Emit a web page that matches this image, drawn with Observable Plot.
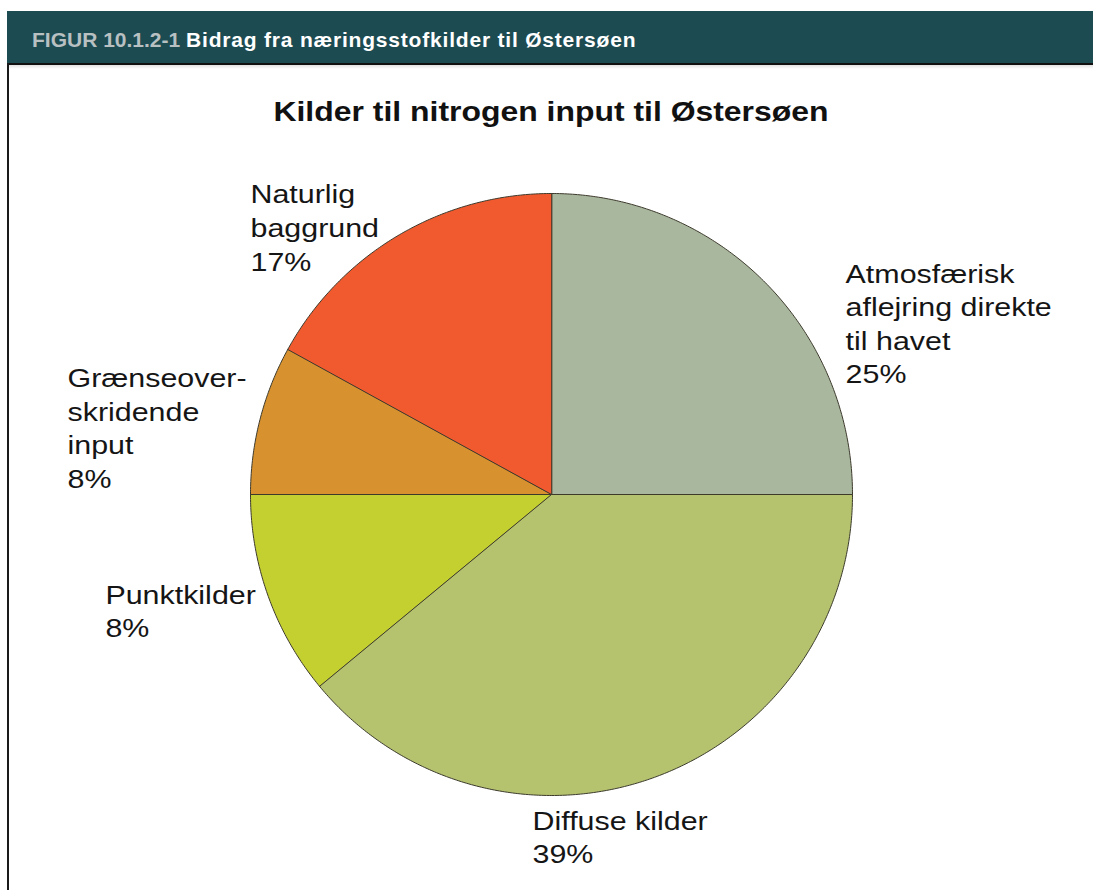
<!DOCTYPE html>
<html>
<head>
<meta charset="utf-8">
<script src="https://cdn.jsdelivr.net/npm/d3@7"></script>
<script src="https://cdn.jsdelivr.net/npm/@observablehq/plot@0.6"></script>
<style>
html, body { margin: 0; padding: 0; background: #fff; }
body { width: 1093px; height: 890px; position: relative; overflow: hidden; font-family: "Liberation Sans", Arial, Helvetica, sans-serif; }
#header { position: absolute; left: 7px; top: 11px; width: 1086px; height: 52px; background: #1d4b52; }
#header .txt { position: absolute; left: 25px; top: 18px; font-size: 21px; line-height: 21px; font-weight: bold; white-space: nowrap; }
#header .fig { color: #b8c0c2; }
#header .ttl { color: #ffffff; letter-spacing: 0.8px; }
#rule { position: absolute; left: 7px; top: 63px; width: 1086px; height: 2px; background: #111; }
#shadow { position: absolute; left: 9px; top: 65px; width: 1084px; height: 4px; background: linear-gradient(#e2e2e2, #ffffff); }
#leftborder { position: absolute; left: 7px; top: 63px; width: 2px; height: 827px; background: #1a1a1a; }
#title { position: absolute; left: 0; top: 96px; width: 1102px; text-align: center; font-size: 28.5px; line-height: 30px; font-weight: bold; color: #111; transform: scaleX(1.12); transform-origin: 551px 0; }
#chart { position: absolute; left: 0; top: 65px; }
</style>
</head>
<body>
<div id="header"><div class="txt"><span class="fig">FIGUR 10.1.2-1</span> <span class="ttl">Bidrag fra næringsstofkilder til Østersøen</span></div></div>
<div id="rule"></div>
<div id="shadow"></div>
<div id="title">Kilder til nitrogen input til Østersøen</div>
<div id="chart"></div>
<div id="leftborder"></div>
<script>
// ---- data ----
const categories = [
  "Atmosfærisk aflejring direkte til havet",
  "Diffuse kilder",
  "Punktkilder",
  "Grænseoverskridende input",
  "Naturlig baggrund"
];
// slice sizes as drawn (angles measured on the picture), clockwise from 12 o'clock
const shares = [25, 39, 11, 8, 17];
// percentage text as printed on the picture
const shareLabels = ["25%", "39%", "8%", "8%", "17%"];
// how each category name is broken into lines
const nameLines = [
  ["Atmosfærisk", "aflejring direkte", "til havet"],
  ["Diffuse kilder"],
  ["Punktkilder"],
  ["Grænseover-", "skridende", "input"],
  ["Naturlig", "baggrund"]
];
const palette = ["#a9b79f", "#b5c36f", "#c4d02f", "#d8912f", "#f15a2f"];

// ---- layout ----
const W = 1093, H = 825, R = 301, cx = 551, cy = 429;
// label anchors (top-left of text block) in units of pie radius
const labelAt = [[0.977, 0.783], [-0.063, -1.034], [-1.482, -0.283], [-1.608, 0.435], [-1.0, 1.046]];
const labelStretch = 1.17;

// ---- build slice outlines from the pie layout ----
const arcs = d3.pie().sort(null).value(d => d)(shares);
const slicePoints = arcs.flatMap((a, i) => {
  const n = Math.max(2, Math.ceil((a.endAngle - a.startAngle) / (Math.PI / 360)));
  const pts = [{category: categories[i], x: 0, y: 0}];
  for (let k = 0; k <= n; k++) {
    const t = a.startAngle + (a.endAngle - a.startAngle) * k / n;
    pts.push({category: categories[i], x: Math.sin(t), y: Math.cos(t)});
  }
  return pts;
});

const labels = categories.map((c, i) => ({
  category: c,
  text: nameLines[i].concat([shareLabels[i]]).join("\n"),
  x: labelAt[i][0],
  y: labelAt[i][1]
}));

const chart = Plot.plot({
  width: W,
  height: H,
  marginLeft: cx - R,
  marginRight: W - cx - R,
  marginTop: cy - R,
  marginBottom: H - cy - R,
  x: {domain: [-1, 1], axis: null},
  y: {domain: [-1, 1], axis: null},
  color: {domain: categories, range: palette},
  style: {background: "transparent", overflow: "visible"},
  marks: [
    Plot.line(slicePoints, {
      x: "x", y: "y", z: "category", fill: "category",
      stroke: "#3d3a2c", strokeWidth: 1, curve: "linear-closed", strokeLinejoin: "round"
    }),
    Plot.text(labels, {
      x: "x", y: "y", text: "text",
      textAnchor: "start", lineAnchor: "top",
      fontSize: 26, lineHeight: 1.29,
      fontFamily: "Liberation Sans, Arial, Helvetica, sans-serif",
      fill: "#151515"
    })
  ]
});

// widen label glyphs horizontally, as in the reference typeface
d3.select(chart).selectAll('g[aria-label="text"] text').each(function() {
  const t = this.getAttribute("transform");
  if (t) {
    this.setAttribute("transform", t + ` scale(${labelStretch},1)`);
  } else {
    const x = +this.getAttribute("x") || 0;
    this.setAttribute("transform", `translate(${x},0) scale(${labelStretch},1) translate(${-x},0)`);
  }
});

document.getElementById("chart").appendChild(chart);
</script>
</body>
</html>
